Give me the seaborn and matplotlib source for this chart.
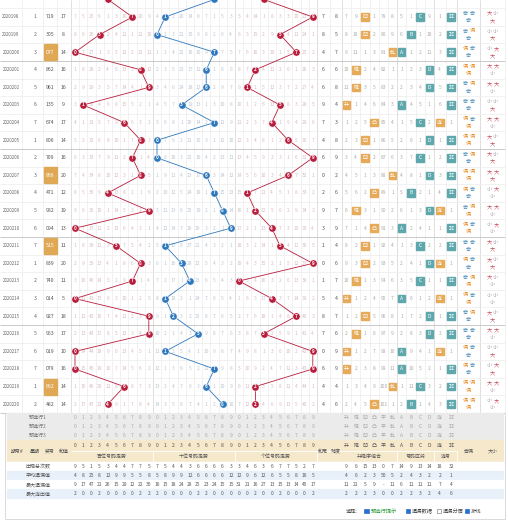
import pandas as pd
import seaborn as sns
import matplotlib.pyplot as plt
from matplotlib.patches import Rectangle

sns.set_theme(style="white")
plt.rcParams['font.family'] = ['Noto Sans CJK SC', 'DejaVu Sans']

# ---- 图上读出的数据 ----
issues = ['2020197', '2020198', '2020199', '2020200', '2020201', '2020202', '2020203', '2020204',
          '2020205', '2020206', '2020207', '2020208', '2020209', '2020210', '2020211', '2020212',
          '2020213', '2020214', '2020215', '2020216', '2020217', '2020218', '2020219', '2020220']
weekdays = [7, 1, 2, 3, 4, 5, 6, 7, 1, 2, 3, 4, 5, 6, 7, 1, 2, 3, 4, 5, 6, 7, 1, 2]
draws = ['473', '719', '305', '077', '862', '961', '135', '674', '806', '709', '866', '471',
         '982', '094', '515', '839', '740', '014', '927', '953', '019', '079', '662', '482']
sums = [14, 17, 8, 14, 16, 16, 9, 17, 14, 16, 20, 12, 19, 13, 11, 20, 11, 5, 18, 17, 10, 16, 14, 14]
group3 = ['077', '866', '515', '662']

shape_cols = ['升', '降', '凹', '凸', '平', '乱']
shapes = ['凸', '凹', '凹', '乱', '降', '降', '升', '凸', '凹', '凹', '乱', '凸',
          '降', '凸', '凹', '凹', '降', '升', '凹', '降', '升', '升', '乱', '凸']
zone_cols = ['A', 'B', 'C', 'D']
zones = ['B', 'C', 'B', 'A', 'D', 'D', 'A', 'C', 'D', 'C', 'D', 'B',
         'D', 'A', 'C', 'D', 'C', 'A', 'D', 'D', 'A', 'A', 'C', 'B']
link_cols = ['连', '非']
links = ['连', '非', '非', '非', '非', '非', '非', '连', '非', '非', '非', '非',
         '连', '非', '非', '连', '非', '连', '非', '非', '连', '非', '非', '非']

# 第一行(部分被裁)的遗漏值, 0 = 当期开出
miss_h0 = [6, 4, 24, 5, 0, 2, 9, 2, 19, 8]
miss_t0 = [3, 8, 1, 19, 13, 7, 6, 0, 4, 2]
miss_u0 = [4, 3, 13, 0, 7, 2, 2, 9, 22, 6]
miss_shape0 = [6, 8, 2, 0, 78, 7]
miss_zone0 = [4, 0, 2, 8]
miss_link0 = [0, 1]

stat_labels = ['出现总次数', '平均遗漏值', '最大遗漏值', '最大连出值']
stat_h = [[9, 5, 1, 5, 3, 4, 4, 7, 7, 5],
          [4, 8, 25, 8, 12, 9, 9, 5, 5, 8],
          [9, 17, 47, 21, 26, 15, 29, 12, 22, 30],
          [2, 0, 0, 2, 0, 0, 0, 0, 2, 2]]
stat_t = [[7, 5, 4, 4, 3, 6, 6, 6, 6, 3],
          [5, 8, 9, 9, 12, 6, 6, 6, 6, 12],
          [16, 15, 18, 24, 28, 25, 23, 24, 15, 15],
          [2, 0, 0, 0, 0, 2, 2, 0, 0, 0]]
stat_u = [[3, 4, 6, 3, 6, 7, 7, 5, 2, 7],
          [12, 9, 6, 12, 6, 5, 5, 8, 16, 5],
          [31, 21, 16, 27, 13, 15, 13, 14, 45, 17],
          [0, 0, 2, 0, 0, 2, 0, 0, 0, 2]]
stat_r = [[9, 6, 15, 13, 0, 7, 14, 9, 13, 14, 18, 32],
          [4, 6, 2, 3, 50, 5, 2, 4, 3, 2, 2, 1],
          [11, 21, 5, 9, '-', 11, 6, 11, 11, 11, 7, 4],
          [2, 2, 2, 3, 0, 0, 2, 2, 3, 2, 4, 6]]

# ---- 版面 ----
RED, BLUE = '#b81d3c', '#2f78bd'
ORANGE, TEAL = '#e6aa58', '#5ea7ad'
GRID, SEP = '#ececec', '#c9c9c9'
FS = 3.7
ROW_H, Y0 = 17.6, -0.6
B0, CW = 70.9, 8.2
X_ISSUE, X_WEEK, X_NUM, X_SUM = 11, 35, 50, 63.5
X_TAIL, X_SPAN = 323, 336
SH0, SHW = 342, 9.17
ZN0, ZNW = 397, 9.25
LK0, LKW = 434, 11.5
X_OE, X_BS = 468.5, 492.5
RIGHT = 505


def digit_x(pos, d):
    return B0 + (pos * 10 + d + 0.5) * CW


def run_misses(start, hits):
    cur = list(start)
    out = []
    for i, h in enumerate(hits):
        if i:
            cur = [c + 1 for c in cur]
        cur[h] = 0
        out.append(cur)
    return out


n = len(draws)
row_y = [Y0 + i * ROW_H for i in range(n)]
digits = [[int(c) for c in d] for d in draws]
miss = [run_misses(m0, [dg[p] for dg in digits]) for p, m0 in enumerate([miss_h0, miss_t0, miss_u0])]
miss_shape = run_misses(miss_shape0, [shape_cols.index(s) for s in shapes])
miss_zone = run_misses(miss_zone0, [zone_cols.index(z) for z in zones])
miss_link = run_misses(miss_link0, [link_cols.index(k) for k in links])
# 第一行在图顶被裁掉一半, 只画球和线, 不写文字
shown = range(1, n)

fig = plt.figure(figsize=(5.08, 5.22), dpi=100)
ax = fig.add_axes([0, 0, 1, 1])


def txt(x, y, s, c='#555555', fs=FS, **kw):
    ax.text(x, y, str(s), color=c, fontsize=fs, ha='center', va='center', **kw)


# 网格
table_bottom = Y0 + (n - 0.5) * ROW_H
col_edges = [22, 43, 57, B0] + [B0 + k * CW for k in range(1, 31)] + [329.5, SH0] + \
            [SH0 + k * SHW for k in range(1, 7)] + [ZN0 + k * ZNW for k in range(1, 5)] + \
            [LK0 + LKW, LK0 + 2 * LKW, 480, RIGHT]
block_edges = [B0, B0 + 10 * CW, B0 + 20 * CW, B0 + 30 * CW, SH0, ZN0, LK0, 457, 480]
ax.vlines(col_edges, 0, table_bottom, color=GRID, lw=0.5, zorder=1)
ax.vlines(block_edges, 0, table_bottom, color='#dcdcdc', lw=0.6, zorder=1)
for i, iss in enumerate(issues):
    yb = row_y[i] + ROW_H / 2
    sep = iss[-1] in '05'
    ax.hlines(yb, 0, RIGHT, color=SEP if sep else GRID, lw=0.7 if sep else 0.5, zorder=1)

# 左侧信息列
for i in shown:
    y = row_y[i]
    txt(X_ISSUE, y, issues[i], '#666666', 3.2)
    txt(X_WEEK, y, weekdays[i], '#666666')
    if draws[i] in group3:
        ax.add_patch(Rectangle((44, y - 8), 13, 16, color='#dfa854', zorder=2))
        txt(X_NUM, y, draws[i], 'white', zorder=3)
    else:
        txt(X_NUM, y, draws[i], '#555555')
    txt(X_SUM, y, sums[i], '#555555')
    txt(X_TAIL, y, sums[i] % 10, '#555555')
    txt(X_SPAN, y, max(digits[i]) - min(digits[i]), '#555555')

# 遗漏值
for p, col in enumerate(['#d9bcc0', '#bcc6d2', '#d9bcc0']):
    for i in shown:
        for d in range(10):
            v = miss[p][i][d]
            if v:
                txt(digit_x(p, d), row_y[i], v, col, 3.5)

# 走势线 + 号码球
pts = pd.DataFrame([{'pos': p, 'row': i, 'x': digit_x(p, digits[i][p]), 'y': row_y[i],
                     'd': digits[i][p]} for p in range(3) for i in range(n)])
for p, col in enumerate([RED, BLUE, RED]):
    sub = pts[pts['pos'] == p]
    sns.lineplot(data=sub, x='x', y='y', sort=False, estimator=None, color=col, lw=0.6,
                 ax=ax, zorder=3)
    sns.scatterplot(data=sub, x='x', y='y', color=col, s=27, edgecolor='white', linewidth=0.3,
                    ax=ax, zorder=4, legend=False)
    for _, r in sub[sub['row'] > 0].iterrows():
        txt(r['x'], r['y'], int(r['d']), 'white', 3.3, fontweight='bold', zorder=5)


# 形态列
def cat_cells(x0, w, cols, hits, misses, colors):
    for i in shown:
        y = row_y[i]
        for k, name in enumerate(cols):
            cx = x0 + (k + 0.5) * w
            if hits[i] == name:
                ax.add_patch(Rectangle((cx - 3.8, y - 3.8), 7.6, 7.6, color=colors[k], zorder=2))
                txt(cx, y, name, 'white', 3.6, zorder=3)
            else:
                txt(cx, y, misses[i][k], '#aaaaaa', 3.5)


cat_cells(SH0, SHW, shape_cols, shapes, miss_shape, [ORANGE] * 6)
cat_cells(ZN0, ZNW, zone_cols, zones, miss_zone, [TEAL] * 4)
cat_cells(LK0, LKW, link_cols, links, miss_link, [ORANGE, TEAL])

# 奇偶 / 大小
for i in shown:
    y = row_y[i]
    oe = ['奇' if d % 2 else '偶' for d in digits[i]]
    bs = ['大' if d >= 5 else '小' for d in digits[i]]
    for k, (dx, dy) in enumerate([(-3.4, -3.6), (3.4, -3.6), (0, 3.6)]):
        txt(X_OE + dx, y + dy, oe[k], '#4f8fb8' if oe[k] == '奇' else '#e8902c', 3.7)
        txt(X_BS + dx, y + dy, bs[k], '#cc5262' if bs[k] == '大' else '#a393a8', 3.7)

# ---- 底部区域 ----
FR_L = 5
ax.add_patch(Rectangle((FR_L, table_bottom), RIGHT - FR_L, 519 - table_bottom, fill=False,
                       ec='#d4d4d4', lw=0.6, zorder=1))
pre_y = [table_bottom + 4.5 + k * 9 for k in range(3)]
for k, y in enumerate(pre_y):
    ax.add_patch(Rectangle((FR_L + 2, y - 4.5), RIGHT - FR_L - 4, 9, color='#ebebeb', zorder=1))
    txt(38, y, f'预选行{k + 1}', '#777777', 3.6)
    for p in range(3):
        for d in range(10):
            txt(digit_x(p, d), y, d, '#a9a9a9', 3.5)
    for cols, x0, w in [(shape_cols, SH0, SHW), (zone_cols, ZN0, ZNW), (link_cols, LK0, LKW)]:
        for j, name in enumerate(cols):
            txt(x0 + (j + 0.5) * w, y, name, '#a9a9a9', 3.5)
    ax.hlines(y + 4.5, FR_L + 2, RIGHT - 2, color='white', lw=0.6, zorder=1)

h_top = pre_y[-1] + 4.5
ax.add_patch(Rectangle((FR_L + 2, h_top), RIGHT - FR_L - 4, 22, color='#f6e8cb', zorder=1))
ax.hlines(h_top + 11, B0, LK0 + 2 * LKW, color='white', lw=0.6, zorder=1)
for x, s in [(17, '期号#'), (35, '星期'), (50, '奖号'), (63.5, '和值'), (X_TAIL, '和尾'),
             (X_SPAN, '跨度'), (X_OE, '奇偶'), (X_BS, '大小')]:
    txt(x, h_top + 11, s, '#555555', 3.6)
for p in range(3):
    for d in range(10):
        txt(digit_x(p, d), h_top + 5.5, d, '#555555', 3.6)
for cols, x0, w in [(shape_cols, SH0, SHW), (zone_cols, ZN0, ZNW), (link_cols, LK0, LKW)]:
    for j, name in enumerate(cols):
        txt(x0 + (j + 0.5) * w, h_top + 5.5, name, '#555555', 3.6)
for x0, x1, s in [(B0, B0 + 10 * CW, '百位号码走势'), (B0 + 10 * CW, B0 + 20 * CW, '十位号码走势'),
                  (B0 + 20 * CW, B0 + 30 * CW, '个位号码走势'), (SH0, ZN0, '升降序组合'),
                  (ZN0, LK0, '号码区段'), (LK0, 457, '连号')]:
    txt((x0 + x1) / 2, h_top + 16.5, s, '#555555', 3.6)
    ax.vlines(x1, h_top + 11, h_top + 22, color='white', lw=0.6, zorder=1)

s_top = h_top + 22
for k, lab in enumerate(stat_labels):
    y = s_top + 4.5 + k * 9
    ax.add_patch(Rectangle((FR_L + 2, y - 4.5), RIGHT - FR_L - 4, 9,
                           color='#e8f0fa' if k % 2 else 'white', zorder=1))
    txt(38, y, lab, '#555555', 3.6)
    for p, st in enumerate([stat_h, stat_t, stat_u]):
        for d in range(10):
            txt(digit_x(p, d), y, st[k][d], '#555555', 3.5)
    xs = [SH0 + (j + 0.5) * SHW for j in range(6)] + [ZN0 + (j + 0.5) * ZNW for j in range(4)] + \
         [LK0 + (j + 0.5) * LKW for j in range(2)]
    for x, v in zip(xs, stat_r[k]):
        txt(x, y, v, '#555555', 3.5)

# 选择栏
y_sel = 511
txt(352, y_sel, '选择:', '#444444', 3.8)
for x, s, on, c in [(366.5, '预选行提示', True, '#2e9a3a'), (408, '遗漏数据', True, '#444444'),
                    (439, '遗漏分层', False, '#444444'), (467, '折线', True, '#444444')]:
    ax.add_patch(Rectangle((x - 2.3, y_sel - 2.3), 4.6, 4.6, fc='#2a6fcf' if on else 'white',
                           ec='#2a6fcf' if on else '#888888', lw=0.5, zorder=2))
    ax.text(x + 4, y_sel, s, color=c, fontsize=3.8, ha='left', va='center')

ax.set_xlim(0, 508)
ax.set_ylim(522, 0)
ax.axis('off')
fig.savefig('out.png', dpi=100)
